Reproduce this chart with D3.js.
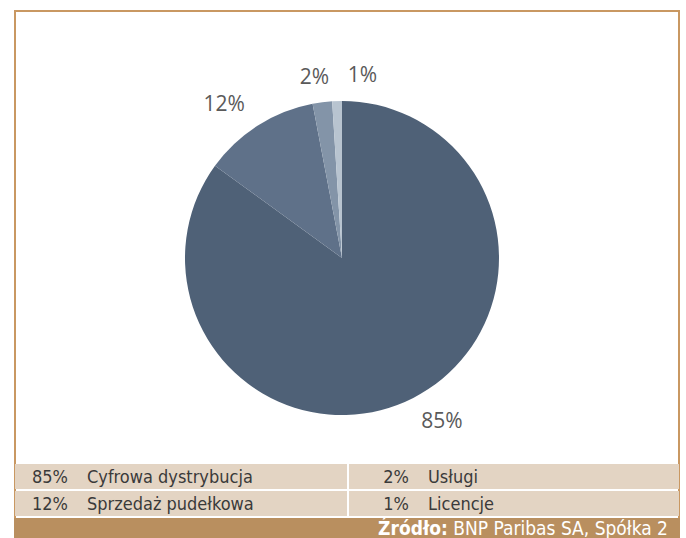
<!DOCTYPE html>
<html>
<head>
<meta charset="utf-8">
<script src="https://cdn.jsdelivr.net/npm/d3@7"></script>
<style>
  body { margin: 0; background: #fff; }
  .tabela { font-family: "Liberation Sans Narrow", "DejaVu Sans Condensed", sans-serif; font-size: 18px; fill: #3a3a3a; }
  .etykieta { font-family: "Open Sans", "Noto Sans", sans-serif; font-size: 21px; fill: #5a5a5a; }
  .zrodlo { font-family: "Liberation Sans Narrow", "DejaVu Sans Condensed", sans-serif; font-size: 19px; fill: #fff; }
</style>
</head>
<body>
<script>
// dane
var kategorie = ["Cyfrowa dystrybucja", "Sprzedaż pudełkowa", "Usługi", "Licencje"];
var udzialy = [85, 12, 2, 1];
var kolory = ["#4f6177", "#5f7189", "#8394a8", "#b8c4d0"];
var zrodloBold = "Źródło:";
var zrodloTekst = " BNP Paribas SA, Spółka 2";

var szer = 686, wys = 538;
var ramka = {izq: 15, dcho: 679, sup: 11};
var cx = 342, cy = 258, promien = 157;

var svg = d3.select('body')
    .append('svg')
    .attr('width', szer)
    .attr('height', wys);

// ramka
svg.append('path')
    .attr('d', 'M' + ramka.izq + ',' + wys + 'V' + ramka.sup + 'H' + ramka.dcho + 'V' + wys)
    .attr('fill', 'none')
    .attr('stroke', '#c99862')
    .attr('stroke-width', 2);

var dane = kategorie.map((k, i) => ({kat: k, val: udzialy[i], kolor: kolory[i]}));

var pie = d3.pie()
    .sort(null)
    .value(d => d.val);

var arc = d3.arc()
    .innerRadius(0)
    .outerRadius(promien);

var luki = pie(dane);

var g = svg.append('g')
    .attr('transform', 'translate(' + cx + ',' + cy + ')');

g.selectAll('path')
    .data(luki)
    .enter()
    .append('path')
    .attr('d', arc)
    .attr('fill', d => d.data.kolor);

// etykiety poza kołem
var rx = 220, ry = 183;
var poz = luki.map(d => {
    var a = (d.startAngle + d.endAngle) / 2;
    return {x: rx * Math.sin(a), y: -ry * Math.cos(a), t: d.data.val + '%'};
});
// rozsunięcie nachodzących etykiet
for (var i = 1; i < poz.length; i++) {
    var p = poz[i - 1];
    if (Math.abs(poz[i].y - p.y) < 24 && poz[i].x - p.x < 48) {
        poz[i].x = p.x + 48;
    }
}
g.selectAll('.etykieta')
    .data(poz)
    .enter()
    .append('text')
    .attr('class', 'etykieta')
    .attr('x', d => d.x)
    .attr('y', d => d.y)
    .attr('dy', '0.35em')
    .attr('text-anchor', 'middle')
    .text(d => d.t);

// tabela legendy
var wiersze = [464, 491];
var wysWiersza = 25;
var kolumny = [ramka.izq, 349];
var szerKol = [332, ramka.dcho - 349];

var komorki = dane.map((d, i) => ({
    d: d,
    kol: i < 2 ? 0 : 1,
    wiersz: i % 2
}));

var tab = svg.append('g').attr('class', 'tabela');

var kom = tab.selectAll('g')
    .data(komorki)
    .enter()
    .append('g')
    .attr('transform', d => 'translate(' + kolumny[d.kol] + ',' + wiersze[d.wiersz] + ')');

kom.append('rect')
    .attr('width', d => szerKol[d.kol])
    .attr('height', wysWiersza)
    .attr('fill', '#e3d4c3');

kom.append('text')
    .attr('x', d => d.kol == 0 ? 53 : 60)
    .attr('y', 19)
    .attr('text-anchor', 'end')
    .text(d => d.d.val + '%');

kom.append('text')
    .attr('x', d => d.kol == 0 ? 72 : 79)
    .attr('y', 19)
    .text(d => d.d.kat);

// stopka
svg.append('rect')
    .attr('x', ramka.izq - 1)
    .attr('y', 518)
    .attr('width', ramka.dcho - ramka.izq + 2)
    .attr('height', wys - 518)
    .attr('fill', '#b98f5f');

var st = svg.append('text')
    .attr('class', 'zrodlo')
    .attr('x', 668)
    .attr('y', 535)
    .attr('text-anchor', 'end');
st.append('tspan').attr('font-weight', 'bold').text(zrodloBold);
st.append('tspan').text(zrodloTekst);
</script>
</body>
</html>
